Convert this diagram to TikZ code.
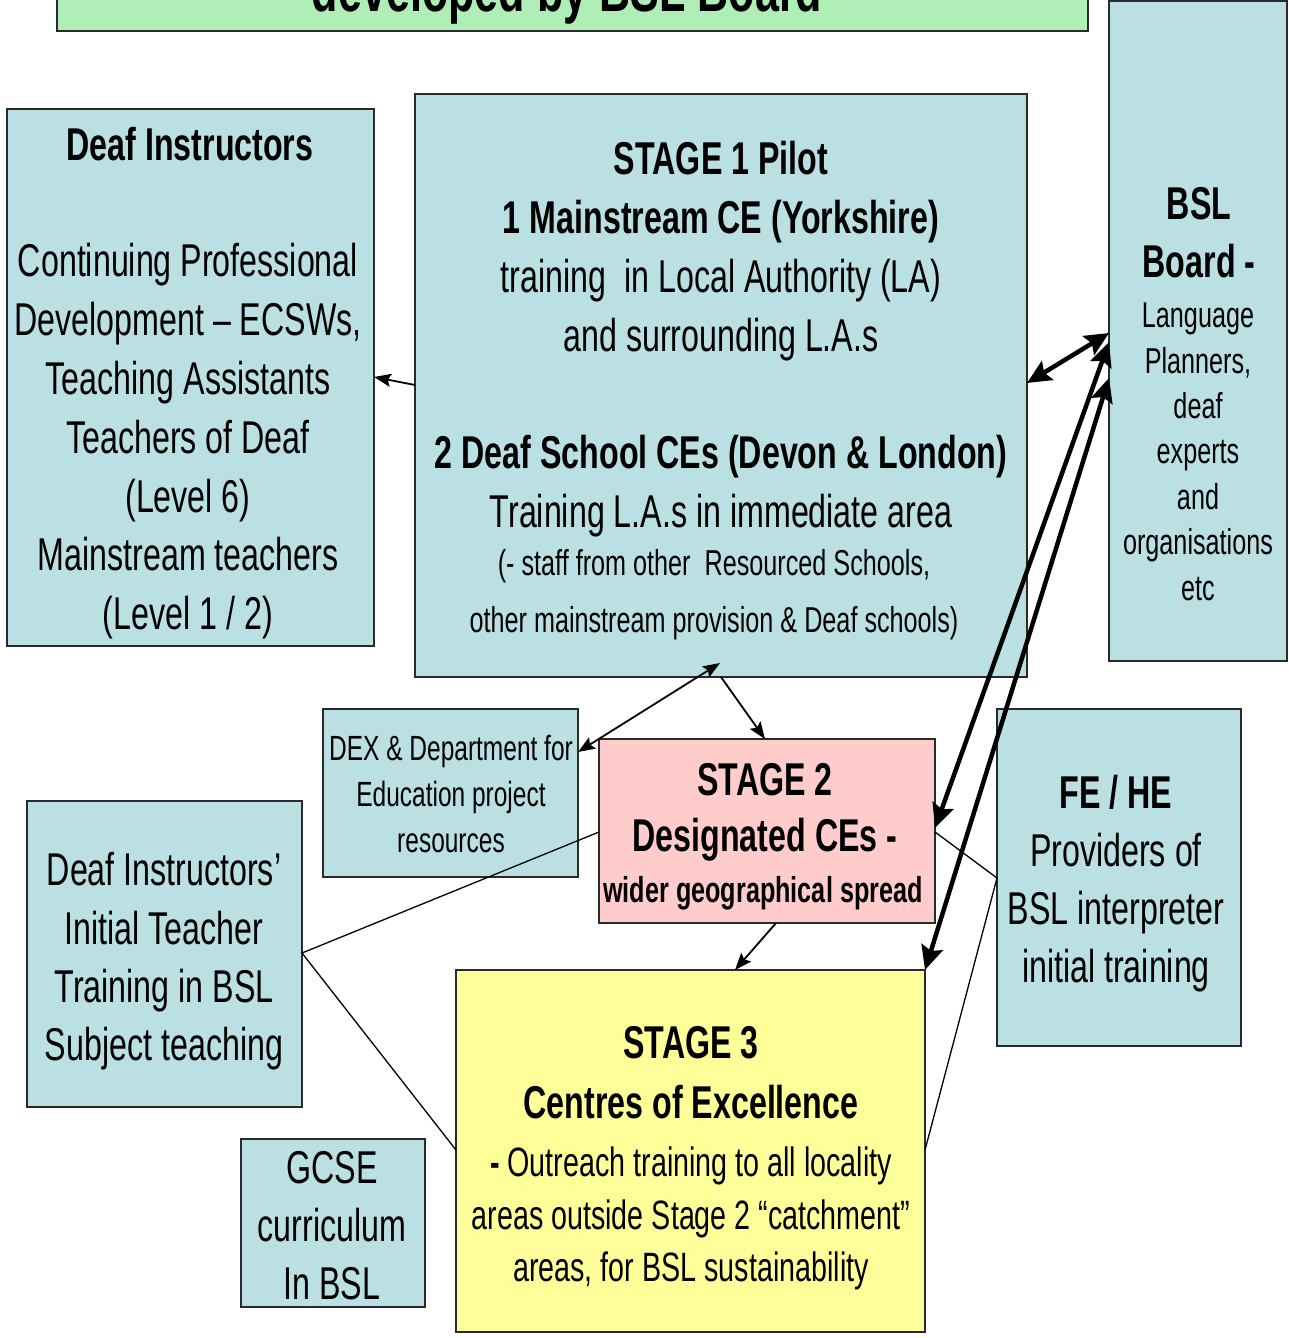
\documentclass[tikz,border=0pt]{standalone}
\usepackage{fontspec}
\setmainfont{Liberation Sans}[FakeStretch=0.70]
\usetikzlibrary{arrows.meta}
\definecolor{boxblue}{HTML}{BBE0E3}
\definecolor{boxpink}{HTML}{FFCCCC}
\definecolor{boxyellow}{HTML}{FFFF99}
\definecolor{boxgreen}{HTML}{B0EEB8}
\definecolor{edge}{HTML}{2A2A2A}
\begin{document}
\begin{tikzpicture}[x=1pt,y=-1pt,
  box/.style={draw=edge, line width=1.3pt, inner sep=0pt, outer sep=0pt},
  txt/.style={align=center, inner sep=0pt, font=\fontsize{46}{58.8}\selectfont},
  small/.style={align=center, inner sep=0pt, font=\fontsize{36}{45.4}\selectfont},
  thinarr/.style={line width=1.8pt, -{Stealth[length=17pt,width=13pt,inset=3pt]}},
  thinboth/.style={line width=1.8pt, {Stealth[length=17pt,width=13pt,inset=3pt]}-{Stealth[length=17pt,width=13pt,inset=3pt]}},
  thickboth/.style={line width=4.5pt, {Stealth[length=24pt,width=22pt,inset=4pt]}-{Stealth[length=24pt,width=22pt,inset=4pt]}},
  plainline/.style={line width=1.3pt}]
\useasboundingbox (0,0) rectangle (1288,1338);
\clip (0,0) rectangle (1288,1338);
\fill[white] (0,0) rectangle (1288,1338);

% boxes
\node[box, fill=boxgreen, minimum width=1031pt, minimum height=91pt] (title) at (572.5,-14.5) {};
\node[box, fill=boxblue, minimum width=367pt, minimum height=537pt] (di) at (190.5,377.5) {};
\node[box, fill=boxblue, minimum width=612pt, minimum height=583pt] (s1) at (721,385.5) {};
\node[box, fill=boxblue, minimum width=178pt, minimum height=660pt] (bsl) at (1198,331) {};
\node[box, fill=boxblue, minimum width=255pt, minimum height=168pt] (dex) at (450.5,793) {};
\node[box, fill=boxpink, minimum width=336pt, minimum height=184pt] (s2) at (767,831) {};
\node[box, fill=boxblue, minimum width=244pt, minimum height=337pt] (fe) at (1119,877.5) {};
\node[box, fill=boxblue, minimum width=275pt, minimum height=306pt] (itt) at (164.5,954) {};
\node[box, fill=boxyellow, minimum width=469pt, minimum height=362pt] (s3) at (690.5,1151) {};
\node[box, fill=boxblue, minimum width=184pt, minimum height=168pt] (gcse) at (333,1223) {};

% texts
\node[inner sep=0pt, anchor=base, font=\fontsize{61.6}{70}\selectfont\bfseries] (titletxt) at (567,12) {developed by BSL Board};

\node[inner sep=0pt, anchor=base, font=\fontsize{46}{58}\selectfont\bfseries] (dititle) at (190,160) {Deaf Instructors};
\node[txt] (dibody) at (188,441.3) {Continuing Professional\\Development – ECSWs,\\Teaching Assistants\\Teachers of Deaf\\(Level 6)\\Mainstream teachers\\(Level 1 / 2)};

\node[txt, font=\fontsize{46}{59}\selectfont] (s1a) at (721,251.3) {\textbf{STAGE 1 Pilot}\\\textbf{1 Mainstream CE (Yorkshire)}\\training~ in Local Authority (LA)\\and surrounding L.A.s};
\node[txt, font=\fontsize{46}{59}\selectfont] (s1b) at (721,486.3) {\textbf{2 Deaf School CEs (Devon \& London)}\\Training L.A.s in immediate area};
\node[small, font=\fontsize{36}{57}\selectfont] (s1c) at (714,594.5) {(- staff from other~ Resourced Schools,\\other mainstream provision \& Deaf schools)};

\node[txt, font=\fontsize{46}{58}\selectfont\bfseries] (bsltitle) at (1199,233) {BSL\\Board -};
\node[small] (bslbody) at (1198,451.7) {Language\\Planners,\\deaf\\experts\\and\\organisations\\etc};

\node[txt, font=\fontsize{35}{46}\selectfont] (dextxt) at (451,794) {DEX \& Department for\\Education project\\resources};

\node[txt, font=\fontsize{46}{56}\selectfont\bfseries] (s2a) at (765,812.8) {STAGE 2\\Designated CEs -};
\node[inner sep=0pt, anchor=base, font=\fontsize{36}{45}\selectfont\bfseries] (s2b) at (763,902) {wider geographical spread};

\node[txt, font=\fontsize{46}{58}\selectfont] (fetxt) at (1116,883.8) {\textbf{FE / HE}\\Providers of\\BSL interpreter\\initial training};

\node[txt, font=\fontsize{46}{58.3}\selectfont] (itttxt) at (164,961.3) {Deaf Instructors’\\Initial Teacher\\Training in BSL\\Subject teaching};

\node[txt, font=\fontsize{46}{60}\selectfont\bfseries] (s3a) at (691,1073) {STAGE 3\\Centres of Excellence};
\node[txt, font=\fontsize{41}{52.5}\selectfont] (s3b) at (691,1218.6) {\textbf{-} Outreach training to all locality\\areas outside Stage 2 “catchment”\\areas, for BSL sustainability};

\node[txt, font=\fontsize{46}{58}\selectfont] (gcsetxt) at (332,1225.5) {GCSE\\curriculum\\In BSL};

% connectors
\draw[thinarr] (s1.west |- 0,385) -- (di.east |- 0,377);
\draw[thickboth] (s1.east |- 0,383) -- (bsl.west |- 0,333);
\draw[thickboth] (bsl.west |- 0,342) -- (s2.east |- 0,828);
\draw[thickboth] (bsl.west |- 0,378) -- (s3.north east);
\draw[thinboth] ([yshift=14pt]s1.south -| 720,0) -- (dex.east |- 0,752);
\draw[thinarr] (s1.south -| 721,0) -- (s2.north -| 765,0);
\draw[thinarr] (s2.south -| 776,0) -- (s3.north -| 735,0);
\draw[plainline] (s2.west |- 0,832) -- (itt.east |- 0,953) -- (s3.west |- 0,1150);
\draw[plainline] (s2.east |- 0,832) -- (fe.west |- 0,878) -- (s3.east |- 0,1150);
\end{tikzpicture}
\end{document}
